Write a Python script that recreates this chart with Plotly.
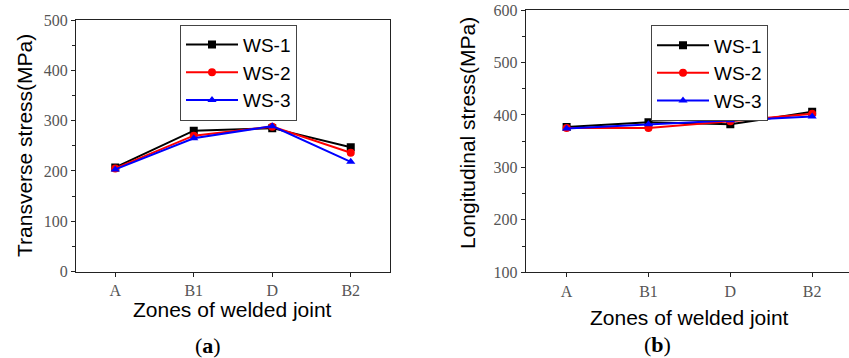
import plotly.graph_objects as go

zones = ["A", "B1", "D", "B2"]
series_names = ["WS-1", "WS-2", "WS-3"]
transverse_ws1 = [207, 280, 285, 247]
transverse_ws2 = [205, 270, 288, 236]
transverse_ws3 = [203, 265, 289, 218]
longitudinal_ws1 = [377, 386, 382, 406]
longitudinal_ws2 = [375, 375, 388, 402]
longitudinal_ws3 = [374, 382, 390, 397]

colors = ["#000000", "#ff0000", "#0000ff"]
symbols = ["square", "circle", "triangle-up"]

W, H = 849, 358
fig = go.Figure()

left = [transverse_ws1, transverse_ws2, transverse_ws3]
right = [longitudinal_ws1, longitudinal_ws2, longitudinal_ws3]
for i, name in enumerate(series_names):
    fig.add_trace(go.Scatter(x=zones, y=left[i], name=name, mode="lines+markers",
                             line=dict(color=colors[i], width=2),
                             marker=dict(symbol=symbols[i], size=8, color=colors[i]),
                             xaxis="x", yaxis="y", legend="legend"))
for i, name in enumerate(series_names):
    fig.add_trace(go.Scatter(x=zones, y=right[i], name=name, mode="lines+markers",
                             line=dict(color=colors[i], width=2),
                             marker=dict(symbol=symbols[i], size=8, color=colors[i]),
                             xaxis="x2", yaxis="y2", legend="legend2"))

tickfont = dict(family="Liberation Serif", size=16, color="#555555")
axcommon = dict(showline=True, linecolor="#222222", linewidth=1, showgrid=False,
                ticks="outside", ticklen=4, tickcolor="#222222", tickfont=tickfont,
                zeroline=False, automargin=False)

def px_x(p):
    return p / W

def px_y(p):
    return (H - p) / H

legfont = dict(family="Liberation Sans", size=19, color="black")
fig.update_layout(
    template="none",
    width=W, height=H, margin=dict(l=0, r=0, t=0, b=0, pad=0),
    paper_bgcolor="white", plot_bgcolor="white",
    xaxis=dict(domain=[px_x(76), px_x(390)], range=[-0.5, 3.5], type="category",
               mirror=True, anchor="y", **axcommon),
    yaxis=dict(domain=[px_y(271.5), px_y(20)], range=[0, 500], dtick=100,
               mirror=True, anchor="x",
               minor=dict(ticks="outside", dtick=50, ticklen=3, tickcolor="#222222"),
               **axcommon),
    xaxis2=dict(domain=[px_x(525.7), 1.0], range=[-0.5, 3.45], type="category",
                mirror=True, anchor="y2", **axcommon),
    yaxis2=dict(domain=[px_y(272.3), px_y(10)], range=[100, 600], dtick=100,
                anchor="x2",
                minor=dict(ticks="outside", dtick=50, ticklen=3, tickcolor="#222222"),
                **axcommon),
    legend=dict(x=px_x(180), y=px_y(24.7), xanchor="left", yanchor="top",
                bordercolor="#444444", borderwidth=1, bgcolor="white",
                font=legfont, tracegroupgap=0, itemwidth=52),
    legend2=dict(x=px_x(651), y=px_y(25.3), xanchor="left", yanchor="top",
                 bordercolor="#444444", borderwidth=1, bgcolor="white",
                 font=legfont, tracegroupgap=0, itemwidth=52),
    showlegend=True,
)

titlefont = dict(family="Liberation Sans", size=21, color="black")
fig.add_annotation(text="Transverse stress(MPa)", x=px_x(25), y=px_y(146), xref="paper", yref="paper",
                   textangle=-90, showarrow=False, font=titlefont, xanchor="center", yanchor="middle")
fig.add_annotation(text="Zones of welded joint", x=px_x(232), y=px_y(309), xref="paper", yref="paper",
                   showarrow=False, font=titlefont, xanchor="center", yanchor="middle")
fig.add_annotation(text="Longitudinal stress(MPa)", x=px_x(467), y=px_y(133), xref="paper", yref="paper",
                   textangle=-90, showarrow=False, font=titlefont, xanchor="center", yanchor="middle")
fig.add_annotation(text="Zones of welded joint", x=px_x(689), y=px_y(317), xref="paper", yref="paper",
                   showarrow=False, font=titlefont, xanchor="center", yanchor="middle")
labfont = dict(family="Liberation Serif", size=22, color="black")
fig.add_annotation(text="(<b>a</b>)", x=px_x(208), y=px_y(345), xref="paper", yref="paper",
                   showarrow=False, font=labfont, xanchor="center", yanchor="middle")
fig.add_annotation(text="(<b>b</b>)", x=px_x(657), y=px_y(344), xref="paper", yref="paper",
                   showarrow=False, font=labfont, xanchor="center", yanchor="middle")

fig.write_html("out.html", config={"displayModeBar": False},
               post_script="document.body.style.margin='0px';document.body.style.overflow='hidden';")
